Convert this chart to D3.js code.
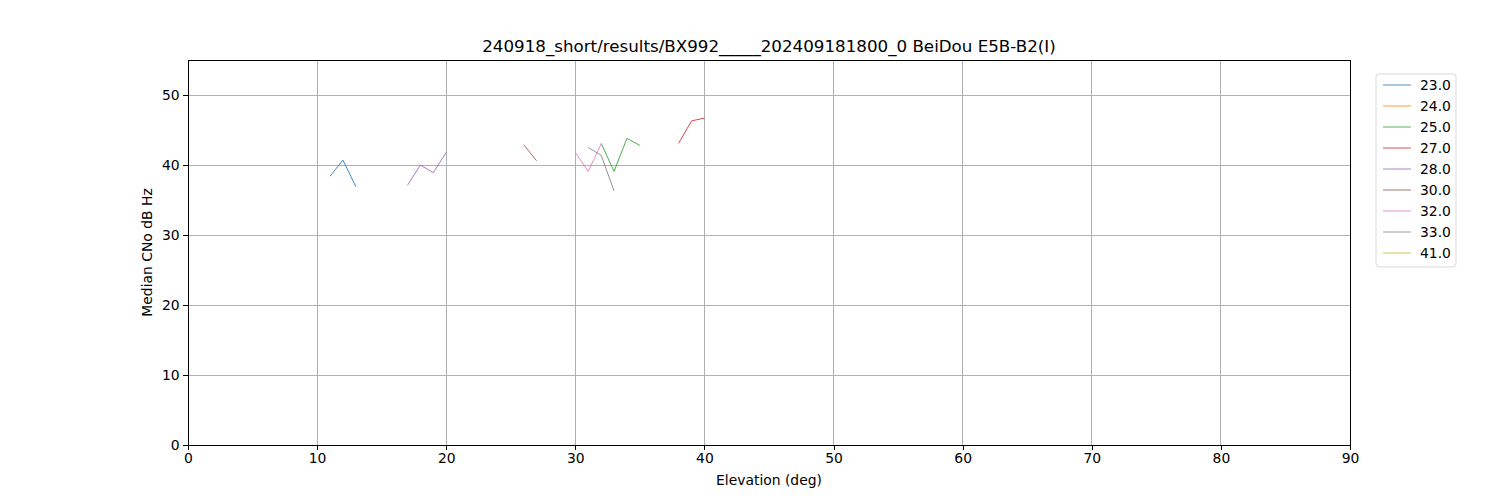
<!DOCTYPE html>
<html>
<head>
<meta charset="utf-8">
<script src="https://cdn.jsdelivr.net/npm/d3@7"></script>
<style>
  body { margin: 0; background: #fff; }
  svg text { font-family: "DejaVu Sans", sans-serif; fill: #000; }
</style>
</head>
<body>
<svg id="chart" width="1500" height="500"></svg>
<script>
// series keys (satellite ids) and their values
const satIds = ["23.0", "24.0", "25.0", "27.0", "28.0", "30.0", "32.0", "33.0", "41.0"];
const sat23 = [[11, 38.4], [12, 40.7], [13, 36.9]];
const sat24 = [];
const sat25 = [[32, 43.1], [33, 39.1], [34, 43.8], [35, 42.8]];
const sat27 = [[38, 43.1], [39, 46.3], [40, 46.7]];
const sat28 = [[17, 37.1], [18, 40.0], [19, 38.9], [20, 41.8]];
const sat30 = [[26, 42.9], [27, 40.6]];
const sat32 = [[30, 41.8], [31, 39.1], [32, 43.0]];
const sat33 = [[31, 42.5], [32, 41.4], [33, 36.3]];
const sat41 = [];
const xTicks = [0, 10, 20, 30, 40, 50, 60, 70, 80, 90];
const yTicks = [0, 10, 20, 30, 40, 50];

const seriesData = [sat23, sat24, sat25, sat27, sat28, sat30, sat32, sat33, sat41];
const colors = d3.schemeCategory10.slice(0, 5).concat(["#8c564b", "#e377c2", "#7f7f7f", "#bcbd22"]);

const margin = { left: 188, right: 150, top: 60, bottom: 55 };
const width = 1350 - margin.left;
const height = 445 - margin.top;

const svgEl = d3.select("#chart");
const svg = svgEl.append("g")
    .attr("transform", `translate(${margin.left},${margin.top})`);

const scaleX = d3.scaleLinear().domain([0, 90]).range([0, width]);
const scaleY = d3.scaleLinear().domain([0, 55]).range([height, 0]);

// grid
svg.append("g").selectAll("line").data(xTicks).enter().append("line")
    .attr("x1", d => scaleX(d)).attr("x2", d => scaleX(d))
    .attr("y1", 0).attr("y2", height)
    .attr("stroke", "#b0b0b0").attr("stroke-width", 1)
    .attr("shape-rendering", "crispEdges");
svg.append("g").selectAll("line").data(yTicks).enter().append("line")
    .attr("y1", d => scaleY(d)).attr("y2", d => scaleY(d))
    .attr("x1", 0).attr("x2", width)
    .attr("stroke", "#b0b0b0").attr("stroke-width", 1)
    .attr("shape-rendering", "crispEdges");

// lines
const line = d3.line().x(d => scaleX(d[0])).y(d => scaleY(d[1]));
seriesData.forEach((s, i) => {
    if (s.length === 0) return;
    svg.append("path")
        .attr("d", line(s))
        .attr("fill", "none")
        .attr("stroke", colors[i])
        .attr("stroke-opacity", 0.85)
        .attr("stroke-width", 1);
});

// axes
const xAxis = svg.append("g")
    .attr("transform", "translate(0," + height + ")")
    .call(d3.axisBottom(scaleX).tickValues(xTicks).tickSize(4.9).tickPadding(3.5).tickFormat(d3.format("d")));
const yAxis = svg.append("g")
    .call(d3.axisLeft(scaleY).tickValues(yTicks).tickSize(4.9).tickPadding(3.5).tickFormat(d3.format("d")));
[xAxis, yAxis].forEach(a => {
    a.select(".domain").remove();
    a.selectAll(".tick line").attr("stroke", "#000").attr("stroke-width", 1).attr("shape-rendering", "crispEdges");
    a.selectAll(".tick text").attr("font-size", 13.9).attr("font-family", "DejaVu Sans");
});

// frame
svg.append("rect")
    .attr("x", 0).attr("y", 0).attr("width", width).attr("height", height)
    .attr("fill", "none").attr("stroke", "#000").attr("stroke-width", 1)
    .attr("shape-rendering", "crispEdges");

// title and labels
svgEl.append("text")
    .attr("x", margin.left + width / 2).attr("y", 52)
    .attr("text-anchor", "middle").attr("font-size", 16.7)
    .text("240918_short/results/BX992_____202409181800_0 BeiDou E5B-B2(I)");
svgEl.append("text")
    .attr("x", margin.left + width / 2).attr("y", 485)
    .attr("text-anchor", "middle").attr("font-size", 13.9)
    .text("Elevation (deg)");
svgEl.append("text")
    .attr("transform", `translate(152,${margin.top + height / 2}) rotate(-90)`)
    .attr("text-anchor", "middle").attr("font-size", 13.9)
    .text("Median CNo dB Hz");

// legend
const legend = svgEl.append("g").attr("transform", "translate(1376,74)");
legend.append("rect")
    .attr("width", 80).attr("height", 193).attr("rx", 3)
    .attr("fill", "#fff").attr("fill-opacity", 0.8)
    .attr("stroke", "#d9d9d9").attr("stroke-width", 1);
const items = legend.selectAll("g.item").data(satIds).enter().append("g")
    .attr("transform", (d, i) => `translate(0,${11 + i * 21})`);
items.append("line")
    .attr("x1", 7).attr("x2", 35).attr("y1", 0).attr("y2", 0)
    .attr("stroke", (d, i) => colors[i]).attr("stroke-opacity", 0.8).attr("stroke-width", 1);
items.append("text")
    .attr("x", 44).attr("y", 5).attr("font-size", 13.9)
    .text(d => d);
</script>
</body>
</html>
